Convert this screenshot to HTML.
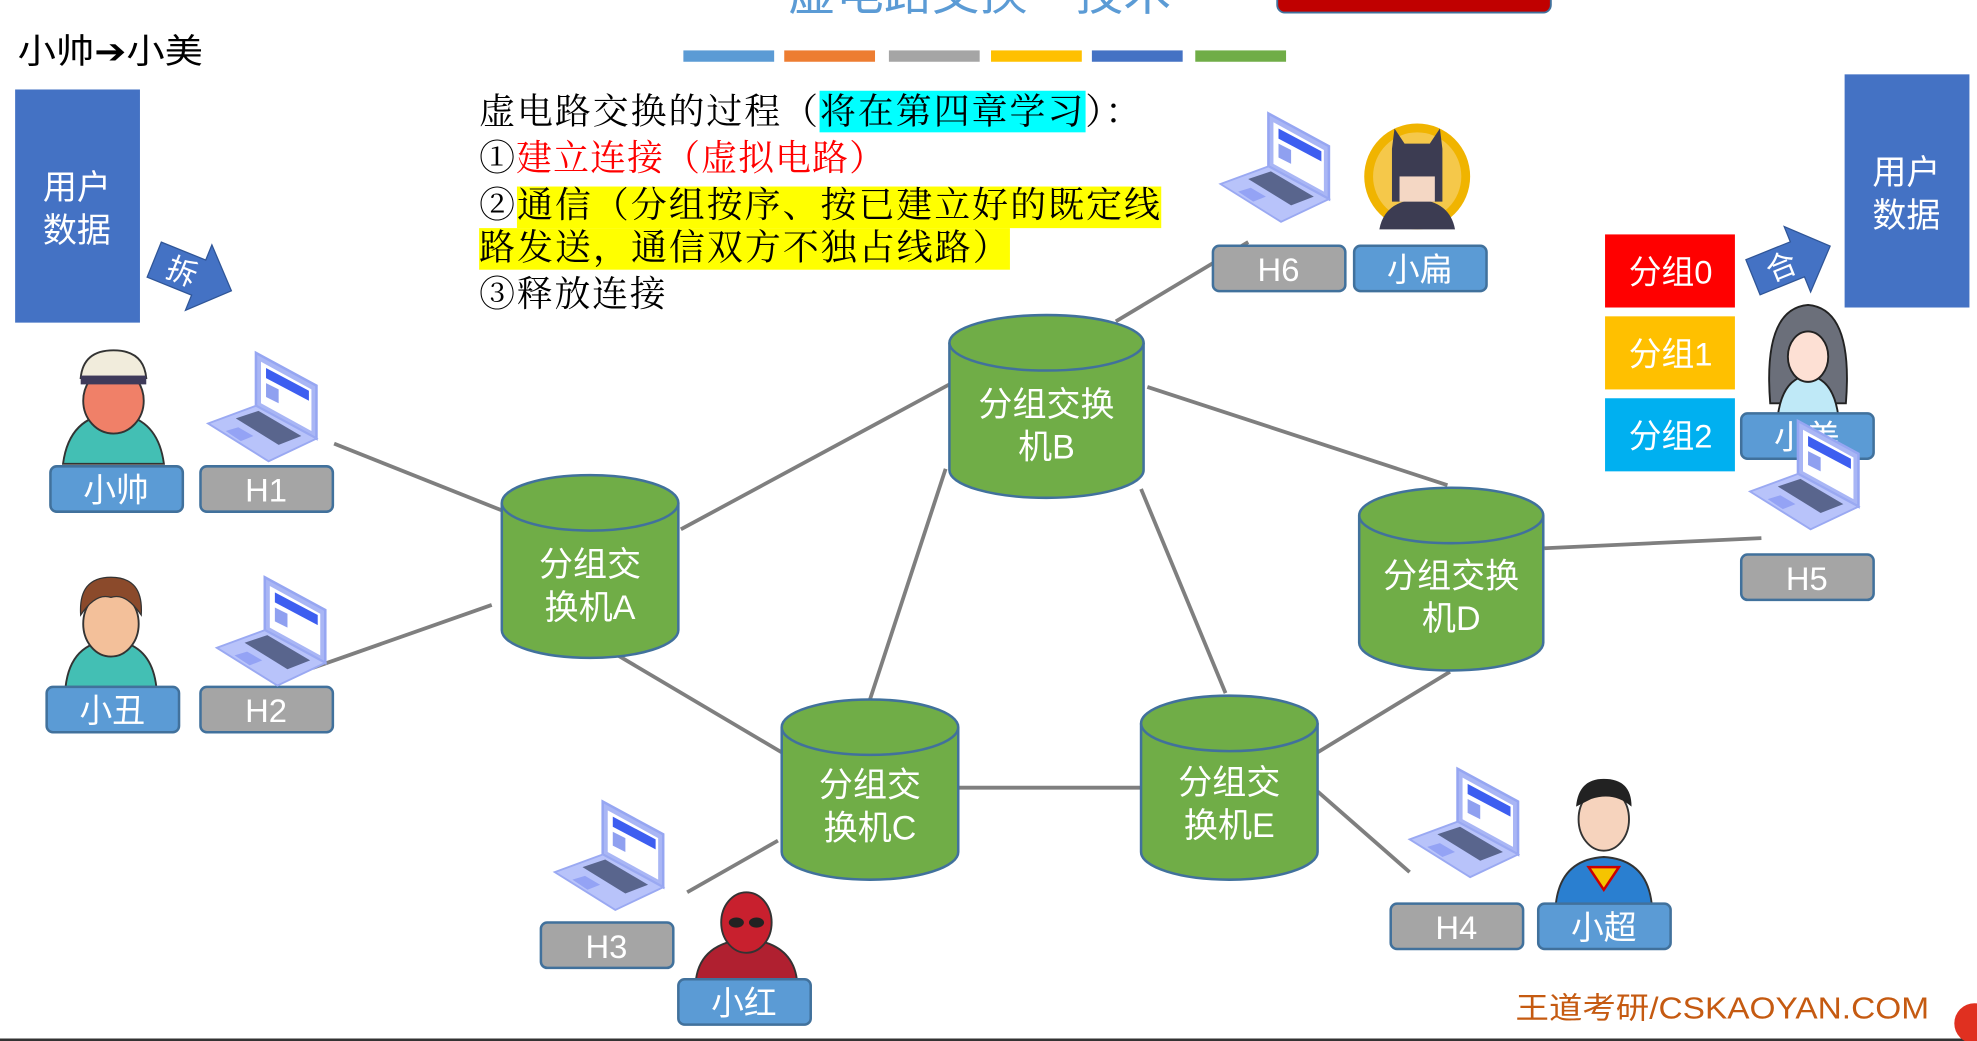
<!DOCTYPE html>
<html><head><meta charset="utf-8"><style>
html,body{margin:0;padding:0;background:#fff;overflow:hidden}
svg{display:block}
text{font-family:"Liberation Sans","Noto Sans CJK SC",sans-serif}
.s{font-family:"Noto Serif CJK SC",serif}
</style></head><body>
<svg width="1977" height="1041" viewBox="0 0 1568 826" preserveAspectRatio="none" xmlns="http://www.w3.org/2000/svg">
<defs>
<g id="lap">
 <polygon points="38,0 86,26 86,68 38,42" fill="#a9b6f5" stroke="#96a6f2" stroke-width="2"/>
 <polygon points="42,7 82,29 82,62 42,40" fill="#fff"/>
 <polygon points="46,12 80,30 80,38 46,20" fill="#3d5ef0"/>
 <polygon points="46,24 56,29 56,40 46,35" fill="#8fa0f0"/>
 <polygon points="0,56 38,42 86,68 48,86" fill="#b8c3fa" stroke="#9aa9f2" stroke-width="1.5"/>
 <polygon points="22,52 40,46 74,66 56,73" fill="#3a4568" opacity="0.75"/>
 <polygon points="14,62 24,59 36,66 26,70" fill="#94a3f5"/>
</g>
<g id="btn"><rect width="105" height="36" rx="5" stroke="#41719c" stroke-width="2"/></g>
</defs>

<text x="625" y="8" font-size="38" fill="#5b9bd5">虚电路交换—技术</text>
<rect x="1013" y="-12" width="217" height="22" rx="6" fill="#c00000" stroke="#41719c" stroke-width="1.5"/>
<g>
<rect x="542" y="40" width="72" height="9" fill="#5b9bd5"/>
<rect x="622" y="40" width="72" height="9" fill="#ed7d31"/>
<rect x="705" y="40" width="72" height="9" fill="#a5a5a5"/>
<rect x="786" y="40" width="72" height="9" fill="#ffc000"/>
<rect x="866" y="40" width="72" height="9" fill="#4472c4"/>
<rect x="948" y="40" width="72" height="9" fill="#70ad47"/>
</g>
<text x="14" y="50" font-size="27" fill="#000" style='font-family:"Noto Sans CJK SC",sans-serif' textLength="147" lengthAdjust="spacingAndGlyphs">小帅➔小美</text>

<rect x="12" y="71" width="99" height="185" fill="#4472c4"/>
<text x="61" y="158" font-size="27" fill="#fff" text-anchor="middle">用户</text>
<text x="61" y="192" font-size="27" fill="#fff" text-anchor="middle">数据</text>
<rect x="1463" y="59" width="99" height="185" fill="#4472c4"/>
<text x="1512" y="146" font-size="27" fill="#fff" text-anchor="middle">用户</text>
<text x="1512" y="180" font-size="27" fill="#fff" text-anchor="middle">数据</text>

<g transform="translate(152,218) rotate(22)">
<polygon points="-32,-15 6,-15 6,-28 34,0 6,28 6,15 -32,15" fill="#4472c4" stroke="#2f5597" stroke-width="1"/>
<text x="-8" y="9" font-size="24" fill="#fff" text-anchor="middle">拆</text>
</g>
<g transform="translate(1420,208) rotate(-22)">
<polygon points="-32,-15 6,-15 6,-28 34,0 6,28 6,15 -32,15" fill="#4472c4" stroke="#2f5597" stroke-width="1"/>
<text x="-8" y="9" font-size="24" fill="#fff" text-anchor="middle">合</text>
</g>

<rect x="650" y="72" width="211" height="33" fill="#00ffff"/>
<rect x="410" y="148" width="511" height="33" fill="#ffff00"/>
<rect x="380" y="181" width="421" height="33" fill="#ffff00"/>
<text class="s" x="380" y="98" font-size="28.5" fill="#000" textLength="525" lengthAdjust="spacing">虚电路交换的过程（将在第四章学习）：</text>
<text class="s" x="380" y="135" font-size="28.5" fill="#000" textLength="322" lengthAdjust="spacing">①<tspan fill="#ff0000">建立连接（虚拟电路）</tspan></text>
<text class="s" x="380" y="172" font-size="28.5" fill="#000" textLength="540" lengthAdjust="spacing">②通信（分组按序、按已建立好的既定线</text>
<text class="s" x="380" y="206" font-size="28.5" fill="#000" textLength="420" lengthAdjust="spacing">路发送，通信双方不独占线路）</text>
<text class="s" x="380" y="243" font-size="28.5" fill="#000" textLength="148" lengthAdjust="spacing">③释放连接</text>

<g stroke="#7f7f7f" stroke-width="3" fill="none">
<line x1="265" y1="352" x2="398" y2="405"/>
<line x1="248" y1="530" x2="390" y2="480"/>
<line x1="540" y1="420" x2="753" y2="305"/>
<line x1="490" y1="520" x2="620" y2="597"/>
<line x1="750" y1="372" x2="690" y2="555"/>
<line x1="905" y1="388" x2="972" y2="550"/>
<line x1="885" y1="255" x2="990" y2="192"/>
<line x1="910" y1="307" x2="1148" y2="385"/>
<line x1="1225" y1="435" x2="1397" y2="427"/>
<line x1="1150" y1="533" x2="1045" y2="597"/>
<line x1="760" y1="625" x2="905" y2="625"/>
<line x1="617" y1="667" x2="545" y2="708"/>
<line x1="1045" y1="628" x2="1118" y2="692"/>
</g>

<g fill="#70ad47" stroke="#41719c" stroke-width="2">
<path d="M398,399 L398,500 A70,22 0 0 0 538,500 L538,399"/><ellipse cx="468" cy="399" rx="70" ry="22"/>
<path d="M753,272 L753,373 A77,22 0 0 0 907,373 L907,272"/><ellipse cx="830" cy="272" rx="77" ry="22"/>
<path d="M1078,409 L1078,510 A73,22 0 0 0 1224,510 L1224,409"/><ellipse cx="1151" cy="409" rx="73" ry="22"/>
<path d="M620,577 L620,676 A70,22 0 0 0 760,676 L760,577"/><ellipse cx="690" cy="577" rx="70" ry="22"/>
<path d="M905,574 L905,676 A70,22 0 0 0 1045,676 L1045,574"/><ellipse cx="975" cy="574" rx="70" ry="22"/>
</g>
<g font-size="27" fill="#fff" text-anchor="middle">
<text x="468" y="457">分组交</text><text x="468" y="491">换机A</text>
<text x="830" y="330">分组交换</text><text x="830" y="364">机B</text>
<text x="1151" y="466">分组交换</text><text x="1151" y="500">机D</text>
<text x="690" y="632">分组交</text><text x="690" y="666">换机C</text>
<text x="975" y="630">分组交</text><text x="975" y="664">换机E</text>
</g>

<rect x="1273" y="186" width="103" height="58" fill="#ff0000"/>
<rect x="1273" y="251" width="103" height="58" fill="#ffc000"/>
<rect x="1273" y="316" width="103" height="58" fill="#00b0f0"/>
<g font-size="26" fill="#fff" text-anchor="middle">
<text x="1325" y="225">分组0</text><text x="1325" y="290">分组1</text><text x="1325" y="355">分组2</text>
</g>

<g>
<path d="M50,368 Q55,330 90,328 Q125,330 130,368Z" fill="#43bfb4" stroke="#333" stroke-width="1.5"/>
<ellipse cx="90" cy="318" rx="24" ry="26" fill="#f08068" stroke="#333" stroke-width="1.5"/>
<path d="M64,300 Q66,278 90,278 Q114,278 116,300Z" fill="#f1ecdc" stroke="#333" stroke-width="1.5"/>
<rect x="64" y="298" width="52" height="7" fill="#3e3a5a"/>
<path d="M52,545 Q56,510 88,508 Q120,510 124,545Z" fill="#43bfb4" stroke="#333" stroke-width="1.5"/>
<ellipse cx="88" cy="495" rx="22" ry="26" fill="#f3c09a" stroke="#333" stroke-width="1.5"/>
<path d="M64,488 Q62,458 88,458 Q114,458 112,488 Q100,470 88,474 Q76,470 64,488Z" fill="#8b4a2b" stroke="#333" stroke-width="1"/>
<path d="M552,777 Q556,748 592,745 Q628,748 632,777Z" fill="#b02030" stroke="#333" stroke-width="1.5"/>
<ellipse cx="592" cy="732" rx="20" ry="24" fill="#c8202e" stroke="#333" stroke-width="1.5"/>
<ellipse cx="584" cy="732" rx="6" ry="4" fill="#222"/><ellipse cx="600" cy="732" rx="6" ry="4" fill="#222"/>
<path d="M1234,717 Q1238,682 1272,680 Q1306,682 1310,717Z" fill="#2a7fd0" stroke="#333" stroke-width="1.5"/>
<polygon points="1260,688 1284,688 1272,706" fill="#f5c400" stroke="#c00" stroke-width="2"/>
<ellipse cx="1272" cy="650" rx="20" ry="25" fill="#f6d3bd" stroke="#333" stroke-width="1.5"/>
<path d="M1250,640 Q1252,618 1272,618 Q1294,618 1294,640 Q1280,628 1262,634Z" fill="#222"/>
<circle cx="1124" cy="140" r="42" fill="#f0b400"/>
<circle cx="1124" cy="140" r="35" fill="#f5c84a"/>
<path d="M1094,182 Q1098,160 1124,158 Q1150,160 1154,182Z" fill="#3c3c52"/>
<path d="M1104,118 L1106,102 L1114,114 L1134,114 L1142,102 L1144,118 L1144,160 L1104,160Z" fill="#3c3c52"/>
<rect x="1110" y="140" width="28" height="20" fill="#f4d7c4"/>
<path d="M1404,320 Q1398,245 1434,242 Q1470,245 1464,320Z" fill="#6b6f7a" stroke="#222" stroke-width="1.5"/>
<path d="M1410,330 Q1414,300 1434,298 Q1454,300 1458,330Z" fill="#bfe9f7" stroke="#222" stroke-width="1.5"/>
<ellipse cx="1434" cy="283" rx="16" ry="20" fill="#fde0d4" stroke="#222" stroke-width="1.5"/>
</g>

<g>
<use href="#btn" x="40" y="370" fill="#5b9bd5"/>
<use href="#btn" x="159" y="370" fill="#a5a5a5"/>
<use href="#btn" x="37" y="545" fill="#5b9bd5"/>
<use href="#btn" x="159" y="545" fill="#a5a5a5"/>
<use href="#btn" x="429" y="732" fill="#a5a5a5"/>
<use href="#btn" x="538" y="777" fill="#5b9bd5"/>
<use href="#btn" x="1103" y="717" fill="#a5a5a5"/>
<use href="#btn" x="1220" y="717" fill="#5b9bd5"/>
<use href="#btn" x="1381" y="440" fill="#a5a5a5"/>
<use href="#btn" x="1381" y="328" fill="#5b9bd5"/>
<use href="#btn" x="962" y="195" fill="#a5a5a5"/>
<use href="#btn" x="1074" y="195" fill="#5b9bd5"/>
</g>
<g font-size="26" fill="#fff" text-anchor="middle">
<text x="92" y="398">小帅</text><text x="211" y="398">H1</text>
<text x="89" y="573">小丑</text><text x="211" y="573">H2</text>
<text x="481" y="760">H3</text><text x="590" y="805">小红</text>
<text x="1155" y="745">H4</text><text x="1272" y="745">小超</text>
<text x="1433" y="468">H5</text><text x="1433" y="356">小美</text>
<text x="1014" y="223">H6</text><text x="1126" y="223">小扁</text>
</g>

<use href="#lap" x="165" y="280"/>
<use href="#lap" x="172" y="458"/>
<use href="#lap" x="440" y="636"/>
<use href="#lap" x="1118" y="610"/>
<use href="#lap" x="1388" y="334"/>
<use href="#lap" x="968" y="90"/>

<text x="1202" y="808" font-size="24" fill="#c55a11" textLength="328" lengthAdjust="spacingAndGlyphs">王道考研/CSKAOYAN.COM</text>
<line x1="0" y1="825" x2="1568" y2="825" stroke="#333" stroke-width="2"/>
<circle cx="1566" cy="812" r="16" fill="#e03020"/>
</svg>
</body></html>
